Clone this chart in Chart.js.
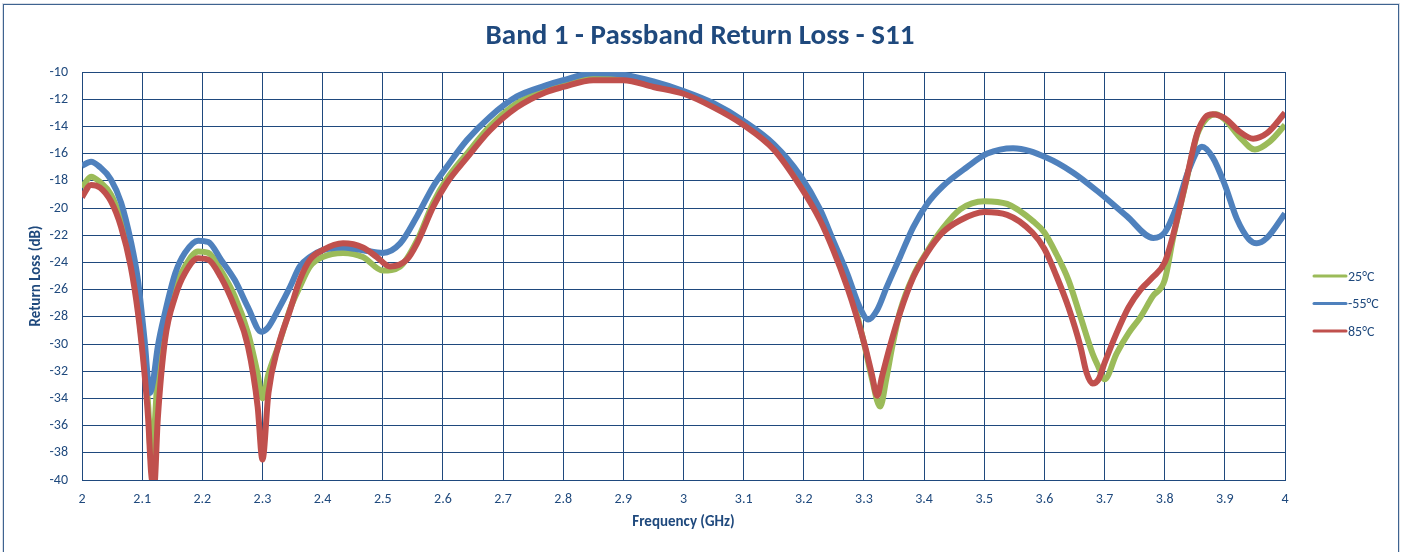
<!DOCTYPE html>
<html>
<head>
<meta charset="utf-8">
<script src="https://cdn.jsdelivr.net/npm/chart.js@4.4.1/dist/chart.umd.min.js"></script>
<style>
html,body{margin:0;padding:0;background:#fff;}
#wrap{position:relative;width:1401px;height:552px;}
</style>
</head>
<body>
<div id="wrap"><canvas id="c" width="1401" height="552"></canvas></div>
<script>
const chartTitle = 'Band 1 - Passband Return Loss - S11';
const xAxisTitle = 'Frequency (GHz)';
const yAxisTitle = 'Return Loss (dB)';
const seriesNames = ['25°C', '-55°C', '85°C'];
const seriesColors = ['#9BBB59', '#4F81BD', '#C0504D'];
const xTickLabels = ['2','2.1','2.2','2.3','2.4','2.5','2.6','2.7','2.8','2.9','3','3.1','3.2','3.3','3.4','3.5','3.6','3.7','3.8','3.9','4'];
const yTickLabels = ['-40','-38','-36','-34','-32','-30','-28','-26','-24','-22','-20','-18','-16','-14','-12','-10'];

// 25°C
const freq25 = [2.0,2.015,2.03,2.048,2.065,2.081,2.093,2.104,2.11,2.115,2.12,2.126,2.138,2.155,2.171,2.193,2.21,2.231,2.254,2.276,2.292,2.3,2.31,2.326,2.347,2.362,2.379,2.4,2.434,2.467,2.5,2.529,2.557,2.584,2.606,2.64,2.678,2.723,2.77,2.8,2.85,2.9,2.95,3.0,3.05,3.1,3.15,3.194,3.227,3.249,3.272,3.288,3.302,3.313,3.327,3.337,3.347,3.36,3.382,3.405,3.431,3.46,3.5,3.538,3.582,3.6,3.62,3.64,3.66,3.68,3.69,3.7,3.72,3.74,3.76,3.78,3.8,3.814,3.837,3.854,3.87,3.885,3.9,3.925,3.95,3.975,4.0];
const rl25 = [-18.5,-17.7,-18.1,-19.0,-20.9,-23.8,-27.3,-31.7,-34.5,-38.5,-36.5,-32.2,-28.7,-25.8,-24.3,-23.2,-23.3,-24.6,-26.5,-29.2,-32.2,-34.0,-32.2,-30.2,-27.3,-25.8,-24.3,-23.6,-23.3,-23.6,-24.6,-24.3,-22.4,-19.6,-17.9,-16.0,-14.0,-12.3,-11.3,-10.9,-10.5,-10.5,-10.9,-11.5,-12.4,-13.8,-15.6,-18.0,-20.6,-22.8,-25.5,-27.8,-30.3,-32.5,-34.6,-32.6,-30.2,-27.6,-25.0,-23.2,-21.5,-20.1,-19.5,-19.7,-21.0,-21.8,-23.4,-25.3,-28.0,-30.7,-31.7,-32.6,-30.7,-29.2,-28.0,-26.5,-25.3,-22.2,-17.8,-14.6,-13.4,-13.1,-13.5,-14.8,-15.7,-15.1,-13.9];

// -55°C
const freqM55 = [2.0,2.015,2.03,2.048,2.065,2.081,2.093,2.104,2.113,2.118,2.126,2.138,2.155,2.171,2.193,2.21,2.231,2.254,2.276,2.298,2.309,2.326,2.346,2.362,2.379,2.4,2.434,2.467,2.5,2.529,2.557,2.584,2.606,2.64,2.678,2.723,2.77,2.8,2.85,2.9,2.95,3.0,3.05,3.1,3.15,3.194,3.227,3.249,3.272,3.293,3.307,3.322,3.338,3.36,3.382,3.405,3.431,3.471,3.505,3.548,3.604,3.648,3.692,3.737,3.781,3.8,3.82,3.84,3.862,3.88,3.9,3.92,3.94,3.953,3.97,4.0];
const rlM55 = [-16.9,-16.6,-17.0,-17.9,-19.6,-22.4,-25.3,-29.7,-33.6,-32.8,-30.2,-27.7,-24.8,-23.3,-22.4,-22.5,-23.8,-25.3,-27.3,-29.1,-28.8,-27.5,-25.8,-24.3,-23.6,-23.1,-22.9,-23.1,-23.3,-22.6,-20.6,-18.4,-17.0,-15.0,-13.3,-11.8,-11.0,-10.6,-10.1,-10.2,-10.7,-11.4,-12.3,-13.6,-15.3,-17.6,-20.1,-22.4,-24.8,-27.3,-28.2,-27.5,-25.8,-23.6,-21.4,-19.7,-18.4,-17.0,-16.0,-15.6,-16.3,-17.4,-18.9,-20.6,-22.2,-21.8,-19.9,-17.2,-15.5,-16.3,-18.3,-20.8,-22.3,-22.6,-22.2,-20.4];

// 85°C
const freq85 = [2.0,2.015,2.03,2.048,2.065,2.081,2.093,2.104,2.11,2.115,2.12,2.126,2.138,2.155,2.171,2.193,2.21,2.231,2.254,2.276,2.292,2.3,2.31,2.326,2.346,2.362,2.379,2.4,2.434,2.467,2.49,2.512,2.54,2.557,2.584,2.606,2.64,2.678,2.723,2.77,2.8,2.85,2.9,2.95,3.0,3.05,3.1,3.15,3.194,3.227,3.249,3.272,3.288,3.302,3.313,3.322,3.33,3.343,3.36,3.382,3.405,3.431,3.46,3.5,3.538,3.58,3.6,3.62,3.64,3.66,3.67,3.68,3.69,3.7,3.72,3.74,3.76,3.78,3.8,3.814,3.837,3.854,3.868,3.88,3.9,3.925,3.947,3.97,4.0];
const rl85 = [-19.2,-18.3,-18.5,-19.5,-21.4,-24.3,-27.7,-32.2,-35.5,-39.5,-40.5,-35.5,-29.7,-26.5,-24.8,-23.7,-23.8,-25.1,-27.3,-30.2,-34.6,-38.5,-33.6,-30.2,-27.5,-25.3,-23.8,-23.1,-22.6,-22.9,-23.6,-24.3,-23.8,-22.6,-19.9,-18.2,-16.3,-14.3,-12.6,-11.5,-11.1,-10.6,-10.6,-11.1,-11.6,-12.6,-13.9,-15.7,-18.4,-20.9,-23.1,-25.8,-28.0,-30.2,-32.2,-33.8,-32.4,-30.2,-27.7,-25.1,-23.3,-21.8,-20.9,-20.3,-20.5,-21.8,-23.0,-25.0,-27.3,-30.2,-32.1,-32.9,-32.6,-31.4,-29.2,-27.3,-26.0,-25.1,-24.0,-22.0,-17.7,-14.5,-13.3,-13.1,-13.4,-14.4,-14.9,-14.5,-13.0];

const FONT = 'Carlito, Lato, "Open Sans", sans-serif';
const TEXT = '#1F497D';
const GRID = '#1F497D';

function pts(fs, vs) { return fs.map((f, i) => ({x: f, y: vs[i]})); }

const allSeries = [
  {name: seriesNames[0], color: seriesColors[0], data: pts(freq25, rl25), order: 2},
  {name: seriesNames[1], color: seriesColors[1], data: pts(freqM55, rlM55), order: 1},
  {name: seriesNames[2], color: seriesColors[2], data: pts(freq85, rl85), order: 0}
];

const decorPlugin = {
  id: 'decor',
  beforeDraw(chart) {
    const ctx = chart.ctx;
    ctx.save();
    ctx.fillStyle = '#fff';
    ctx.fillRect(0, 0, chart.width, chart.height);
    ctx.strokeStyle = '#D9DEE6';
    ctx.lineWidth = 1;
    ctx.strokeRect(2.5, 3.5, 1397, 560);
    ctx.strokeStyle = '#3E6390';
    ctx.strokeRect(3.5, 4.5, 1395, 560);
    ctx.restore();
  },
  afterDraw(chart) {
    const ctx = chart.ctx;
    ctx.save();
    ctx.fillStyle = TEXT;
    ctx.font = 'bold 29px ' + FONT;
    ctx.textAlign = 'center';
    ctx.textBaseline = 'middle';
    ctx.fillText(chartTitle, 700, 37);
    ctx.font = '14px ' + FONT;
    ctx.textAlign = 'left';
    allSeries.forEach((s, i) => {
      const y = 276 + i * 27.5;
      ctx.strokeStyle = s.color;
      ctx.lineWidth = 3;
      ctx.lineCap = 'round';
      ctx.beginPath();
      ctx.moveTo(1314, y);
      ctx.lineTo(1346, y);
      ctx.stroke();
      ctx.fillStyle = TEXT;
      ctx.fillText(s.name, 1348, y + 1);
    });
    ctx.restore();
  }
};

new Chart(document.getElementById('c'), {
  type: 'line',
  data: {
    datasets: allSeries.map(s => ({
      label: s.name,
      data: s.data,
      borderColor: s.color,
      backgroundColor: s.color,
      borderWidth: 6,
      pointRadius: 0,
      cubicInterpolationMode: 'monotone',
      order: s.order,
      fill: false
    }))
  },
  options: {
    responsive: false,
    animation: false,
    devicePixelRatio: 1,
    layout: {padding: {left: 0, right: 116, top: 72, bottom: 0}},
    plugins: {legend: {display: false}, title: {display: false}, tooltip: {enabled: false}},
    scales: {
      x: {
        type: 'linear', min: 2, max: 4,
        afterFit(scale) { scale.height = 72; },
        grid: {color: GRID, lineWidth: 1, drawTicks: false},
        border: {display: true, color: GRID, width: 1},
        ticks: {
          stepSize: 0.1, padding: 11, color: TEXT, font: {family: FONT, size: 14},
          maxRotation: 0, autoSkip: false,
          callback: (v, i) => xTickLabels[i]
        },
        title: {display: true, text: xAxisTitle, color: TEXT, font: {family: FONT, size: 15, weight: 'bold'}, padding: {top: 0, bottom: 21}}
      },
      y: {
        min: -40, max: -10,
        afterFit(scale) { scale.width = 82; },
        grid: {color: GRID, lineWidth: 1, drawTicks: false},
        border: {display: true, color: GRID, width: 1},
        ticks: {
          stepSize: 2, padding: 14, color: TEXT, font: {family: FONT, size: 14},
          autoSkip: false,
          callback: (v, i) => yTickLabels[i]
        },
        title: {display: true, text: yAxisTitle, color: TEXT, font: {family: FONT, size: 15, weight: 'bold'}, padding: {top: 27, bottom: 0}}
      }
    }
  },
  plugins: [decorPlugin]
});
</script>
</body>
</html>
